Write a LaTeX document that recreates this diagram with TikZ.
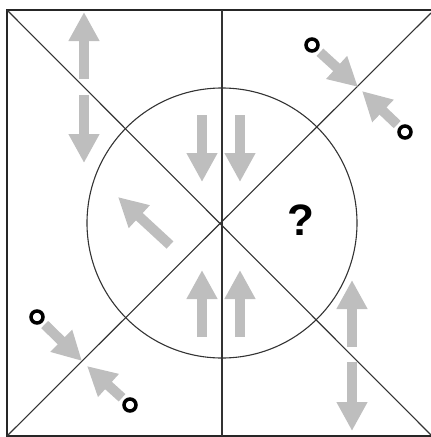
\documentclass[tikz,border=0pt]{standalone}
\usepackage{fontspec}
\usepackage{tikz}
\usetikzlibrary{arrows.meta,calc}
\newfontfamily\qfont{Liberation Sans}
\definecolor{arrowgray}{RGB}{190,190,190}

\begin{document}
\begin{tikzpicture}[x=1pt,y=-1pt,
  frame/.style={draw=black!85,line width=2pt},
  thinline/.style={draw=black!80,line width=1.1pt},
  garrow/.style={draw=arrowgray,line width=10pt,-{Triangle[width=29pt,length=29pt]}},
  ring/.style={circle,draw=black,line width=3.5pt,minimum size=12pt,inner sep=0pt},
  every node/.style={inner sep=0pt}]
\useasboundingbox (0,0) rectangle (431,437);
\coordinate (c) at (222,223);
\draw[frame] (7,10) rectangle (434,436);
\draw[thinline] (7,10) -- (431,435);
\draw[thinline] (7,436) -- (431,13);
\draw[thinline] (222,10) -- (222,436);
\draw[thinline] (c) circle[radius=135];
% left pair
\draw[garrow] (84,79) -- (84,12);
\draw[garrow] (84,95) -- (84,163);
% middle
\draw[garrow] (202,115) -- (202,182);
\draw[garrow] (240,115) -- (240,182);
\draw[garrow] (202,337) -- (202,270);
\draw[garrow] (240,337) -- (240,270);
\draw[garrow] (170,245) -- (118,197);
% right pair
\draw[garrow] (352,347) -- (352,280);
\draw[garrow] (352,362) -- (352,431);
\node[font=\qfont\bfseries\fontsize{44}{44}\selectfont] (q) at (301,220) {?};
% rings
\node[ring] (r1) at (312,45) {};
\node[ring] (r2) at (405,132) {};
\node[ring] (r3) at (37,317) {};
\node[ring] (r4) at (130,405) {};
\coordinate (t1) at (358,87);
\coordinate (t2) at (362,91);
\coordinate (t3) at (82,361);
\coordinate (t4) at (87,366);
\draw[garrow,shorten <=3pt] (r1) -- (t1);
\draw[garrow,shorten <=3pt] (r2) -- (t2);
\draw[garrow,shorten <=3pt] (r3) -- (t3);
\draw[garrow,shorten <=3pt] (r4) -- (t4);
\end{tikzpicture}
\end{document}
